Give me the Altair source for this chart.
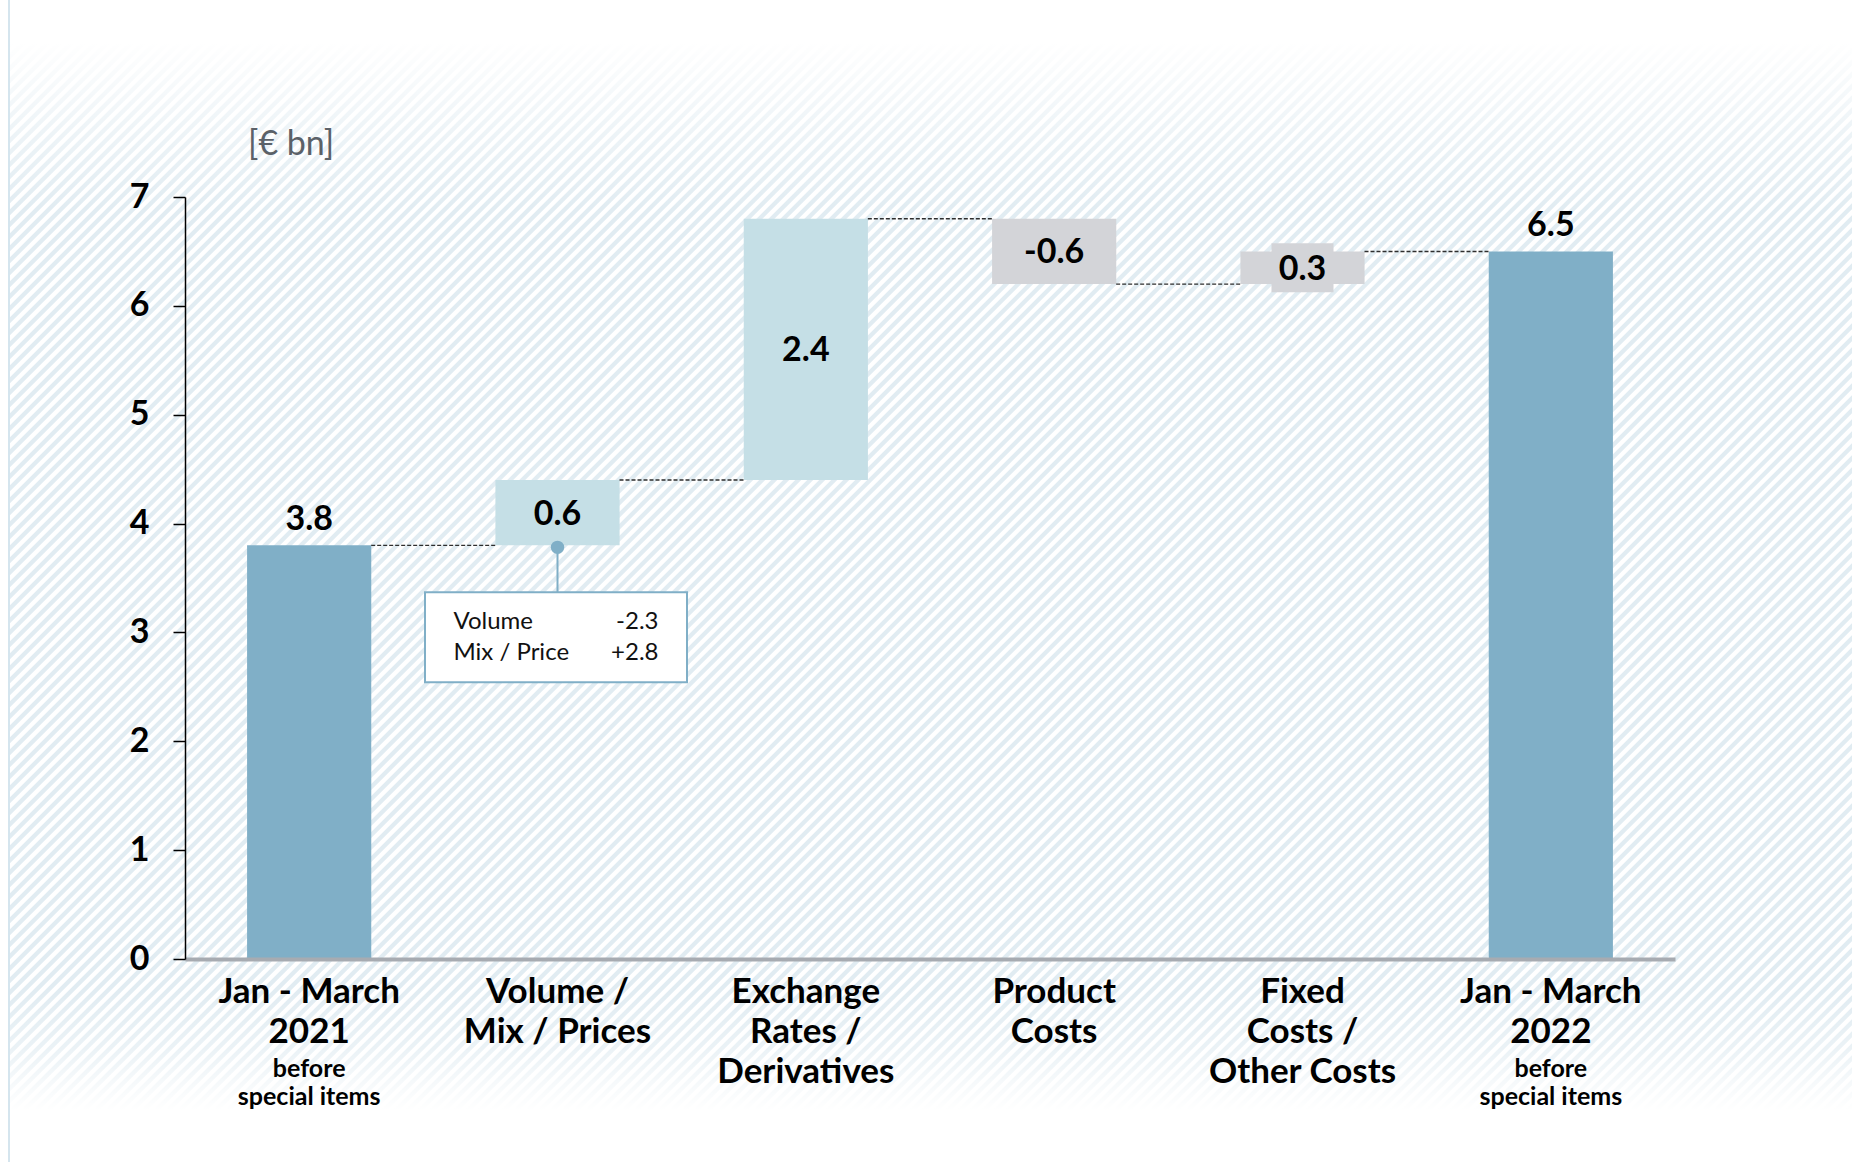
import altair as alt
import pandas as pd

# ---------------- data ----------------
CATEGORIES = ["Jan - March 2021", "Volume / Mix / Prices", "Exchange Rates / Derivatives",
              "Product Costs", "Fixed Costs / Other Costs", "Jan - March 2022"]
VALUES = [3.8, 0.6, 2.4, -0.6, 0.3, 6.5]
KINDS = ["total", "increase", "increase", "cost", "cost", "total"]
VALUE_LABELS = ["3.8", "0.6", "2.4", "-0.6", "0.3", "6.5"]
AXIS_LINES = ["Jan - March\n2021", "Volume /\nMix / Prices", "Exchange\nRates /\nDerivatives",
              "Product\nCosts", "Fixed\nCosts /\nOther Costs", "Jan - March\n2022"]
AXIS_NOTES = ["before\nspecial items", "", "", "", "", "before\nspecial items"]
Y_TICKS = [0, 1, 2, 3, 4, 5, 6, 7]
UNIT = "[€ bn]"
BREAKDOWN_CATEGORY = "Volume / Mix / Prices"
BREAKDOWN_NAMES = ["Volume", "Mix / Price"]
BREAKDOWN_VALUES = ["-2.3", "+2.8"]
BOXED_LABEL_CATEGORY = "Fixed Costs / Other Costs"

# ---------------- waterfall table ----------------
starts, ends = [], []
running = 0.0
for v, k in zip(VALUES, KINDS):
    if k == "total":
        starts.append(0.0)
        ends.append(v)
        running = v
    else:
        starts.append(running)
        running = round(running + v, 4)
        ends.append(running)

df = pd.DataFrame({
    "cat": CATEGORIES, "kind": KINDS, "start": starts, "end": ends,
    "mid": [(s + e) / 2 for s, e in zip(starts, ends)],
    "label": VALUE_LABELS, "line": AXIS_LINES, "note": AXIS_NOTES,
})
conn = pd.DataFrame({
    "cat": CATEGORIES[:-1], "next": CATEGORIES[1:], "level": ends[:-1],
})
bi = CATEGORIES.index(BREAKDOWN_CATEGORY)
annot = pd.DataFrame({
    "cat": [BREAKDOWN_CATEGORY], "anchor": [starts[bi]],
    "names": ["\n".join(BREAKDOWN_NAMES)], "vals": ["\n".join(BREAKDOWN_VALUES)],
})
one = pd.DataFrame({"a": [1]})

# ---------------- layout / style ----------------
W, H = 1490, 762
PAD = {"left": 185, "top": 197, "right": 177, "bottom": 203}
FONT = "Lato"
C_TOTAL, C_UP, C_COST = "#80AFC7", "#C5DFE6", "#D3D4D8"
STRIPE = "#E1ECF2"

x_enc = alt.X("cat:N", sort=CATEGORIES,
              scale=alt.Scale(paddingInner=0.5, paddingOuter=0.25),
              axis=alt.Axis(labels=False, ticks=False, title=None, zindex=1,
                            domainColor="#A7ABB1", domainWidth=4))
y_scale = alt.Scale(domain=[0, 7], nice=False, zero=True)
y_axis = alt.Axis(values=Y_TICKS, title=None, grid=False, domainColor="black", zindex=2,
                  domainWidth=1.5, tickColor="black", tickWidth=1.5, tickSize=12,
                  labelFont=FONT, labelFontWeight="bold", labelFontSize=34,
                  labelColor="black", labelPadding=24)

def Y(field):
    return alt.Y(field, type="quantitative", scale=y_scale, axis=y_axis)

# diagonal hatch background via a many-stop gradient on a square rect
N = 350
stops = []
for k in range(N):
    b = k / N
    stops += [
        {"offset": round(b, 6), "color": "#FFFFFF"},
        {"offset": round(b + 0.38 / N, 6), "color": "#FFFFFF"},
        {"offset": round(b + 0.5 / N, 6), "color": STRIPE},
        {"offset": round(b + 0.88 / N, 6), "color": STRIPE},
    ]
stops.append({"offset": 1.0, "color": "#FFFFFF"})
hatch = {"gradient": "linear", "x1": 0, "y1": 0, "x2": 1, "y2": 1, "stops": stops}

fade_top_grad = {"gradient": "linear", "x1": 0, "y1": 0, "x2": 0, "y2": 1, "stops": [
    {"offset": 0, "color": "rgba(255,255,255,1)"},
    {"offset": 0.2, "color": "rgba(255,255,255,1)"},
    {"offset": 0.6, "color": "rgba(255,255,255,0.45)"},
    {"offset": 1, "color": "rgba(255,255,255,0)"}]}
fade_bot_grad = {"gradient": "linear", "x1": 0, "y1": 0, "x2": 0, "y2": 1, "stops": [
    {"offset": 0, "color": "rgba(255,255,255,0)"},
    {"offset": 0.35, "color": "rgba(255,255,255,0.35)"},
    {"offset": 0.7, "color": "rgba(255,255,255,1)"},
    {"offset": 1, "color": "rgba(255,255,255,1)"}]}

L = -PAD["left"]
T = -PAD["top"]
stripes = alt.Chart(one).mark_rect(fill=hatch, strokeWidth=0).encode(
    x=alt.value(L + 10), x2=alt.value(L + 10 + 2100),
    y=alt.value(T), y2=alt.value(T + 2100))
fade_top = alt.Chart(one).mark_rect(fill=fade_top_grad, strokeWidth=0).encode(
    x=alt.value(L), x2=alt.value(W + PAD["right"]),
    y=alt.value(T), y2=alt.value(T + 210))
fade_bot = alt.Chart(one).mark_rect(fill=fade_bot_grad, strokeWidth=0).encode(
    x=alt.value(L), x2=alt.value(W + PAD["right"]),
    y=alt.value(T + 990), y2=alt.value(H + PAD["bottom"]))
border = alt.Chart(one).mark_rule(color="#D5E5EE", strokeWidth=2).encode(
    x=alt.value(L + 9), y=alt.value(T), y2=alt.value(H + PAD["bottom"]))

base = alt.Chart(df)
bars = base.mark_bar(strokeWidth=0).encode(
    x=x_enc, y=Y("start"), y2="end",
    color=alt.Color("kind:N", scale=alt.Scale(domain=["total", "increase", "cost"],
                                              range=[C_TOTAL, C_UP, C_COST]), legend=None))

connectors = alt.Chart(conn).mark_rule(color="#2E2E2E", strokeWidth=1.4, strokeDash=[4, 2],
                                       xOffset=62, x2Offset=-62).encode(
    x=x_enc, x2="next:N", y=Y("level"))

label_bg = base.transform_filter(alt.datum.cat == BOXED_LABEL_CATEGORY).mark_point(
    shape="M-1,-0.79L1,-0.79L1,0.79L-1,0.79Z", size=62 * 62, filled=True,
    fill=C_COST, opacity=1, strokeWidth=0).encode(x=x_enc, y=Y("mid"))

annot_base = alt.Chart(annot)
annot_box = annot_base.mark_bar(width=262, fill="white", stroke=C_TOTAL, strokeWidth=2,
                                xOffset=-1.5, yOffset=47, y2Offset=137).encode(
    x=x_enc, y=Y("anchor"), y2="anchor")
annot_rule = annot_base.mark_rule(color=C_TOTAL, strokeWidth=2, y2Offset=47).encode(
    x=x_enc, y=Y("anchor"), y2="anchor")
annot_dot = annot_base.mark_circle(size=180, color=C_TOTAL, opacity=1, yOffset=2).encode(
    x=x_enc, y=Y("anchor"))
annot_names = annot_base.mark_text(align="left", baseline="alphabetic", dx=-104, dy=84,
                                   font=FONT, fontSize=24, color="#111111",
                                   lineBreak="\n", lineHeight=31).encode(
    x=x_enc, y=Y("anchor"), text="names:N")
annot_vals = annot_base.mark_text(align="right", baseline="alphabetic", dx=101, dy=84,
                                  font=FONT, fontSize=24, color="#111111",
                                  lineBreak="\n", lineHeight=31).encode(
    x=x_enc, y=Y("anchor"), text="vals:N")

val_totals = base.transform_filter(alt.datum.kind == "total").mark_text(
    baseline="alphabetic", dy=-15, font=FONT, fontSize=34, fontWeight="bold",
    color="black").encode(x=x_enc, y=Y("end"), text="label:N")
val_deltas = base.transform_filter(alt.datum.kind != "total").mark_text(
    baseline="middle", dy=2, font=FONT, fontSize=34, fontWeight="bold",
    color="black").encode(x=x_enc, y=Y("mid"), text="label:N")

xlabels = base.mark_text(baseline="alphabetic", align="center", font=FONT, fontSize=35,
                         fontWeight="bold", color="black", lineBreak="\n",
                         lineHeight=40).encode(
    x=x_enc, y=alt.value(H + 44), text="line:N")
xnotes = base.transform_filter(alt.datum.note != "").mark_text(
    baseline="alphabetic", align="center", font=FONT, fontSize=25, fontWeight="bold",
    color="black", lineBreak="\n", lineHeight=28).encode(
    x=x_enc, y=alt.value(H + 118), text="note:N")

unit = alt.Chart(one).mark_text(align="left", baseline="alphabetic", font=FONT,
                                fontSize=34, color="#5B6168").encode(
    x=alt.value(63), y=alt.value(-42), text=alt.value(UNIT))

chart = alt.layer(
    stripes, fade_top, fade_bot, border,
    bars, connectors, label_bg, annot_box, annot_rule, annot_dot,
    val_totals, val_deltas, annot_names, annot_vals, xlabels, xnotes, unit,
).properties(
    width=W, height=H,
    autosize=alt.AutoSizeParams(type="none"),
    padding=PAD,
).configure(background="white").configure_view(strokeWidth=0)

chart.save("out.html", embed_options={"renderer": "svg", "actions": False})
